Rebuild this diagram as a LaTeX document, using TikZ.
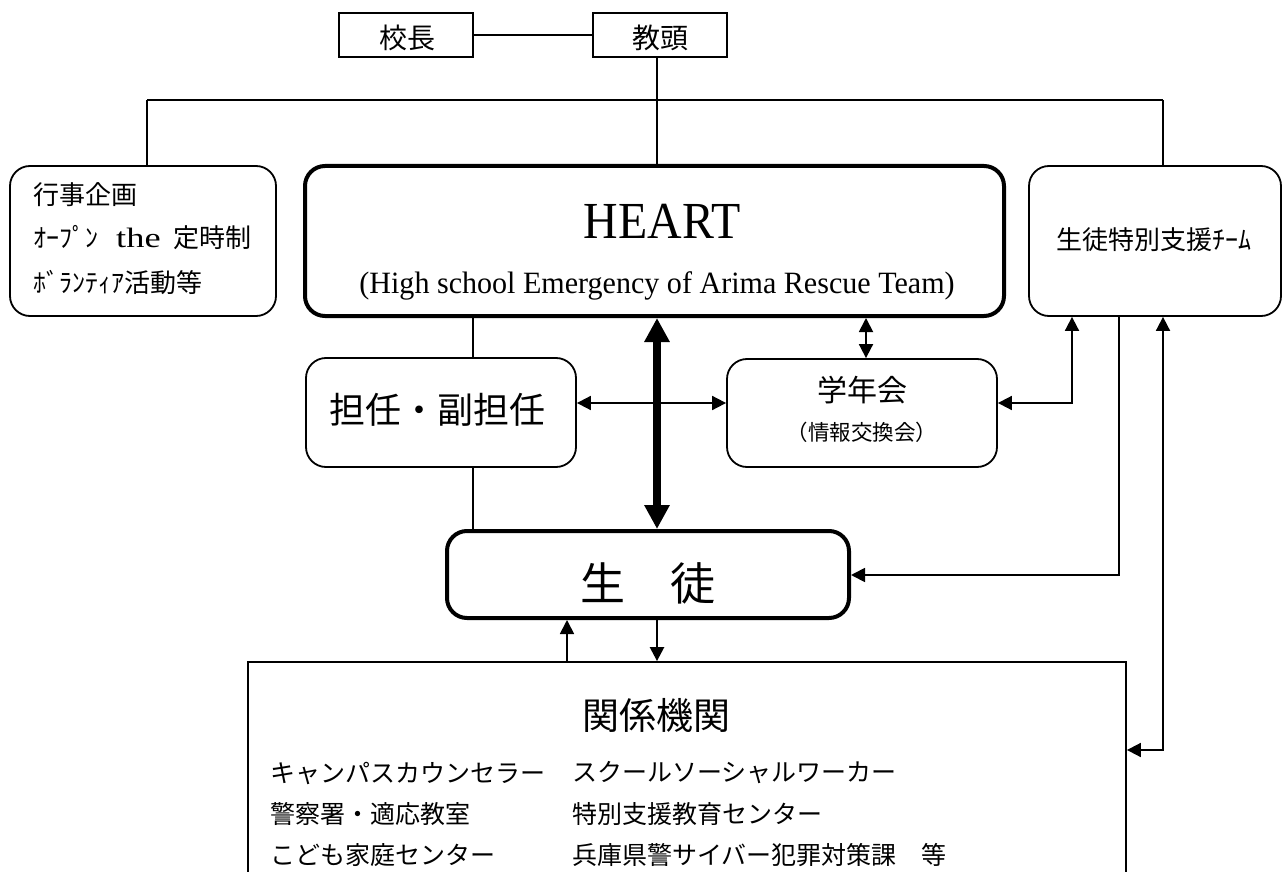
\documentclass[tikz,border=0pt]{standalone}
\usepackage{fontspec}
\newfontfamily\jp{Noto Sans CJK JP}
\newfontfamily\lat{Liberation Serif}
\usetikzlibrary{arrows.meta}
\tikzset{
  box/.style={draw, line width=1.8pt, rounded corners=20pt, inner sep=0pt},
  sq/.style={draw, line width=1.8pt, inner sep=0pt},
  ln/.style={line width=1.8pt},
  tip/.tip={Triangle[length=14pt,width=14pt]},
  arr/.style={ln, tip-tip},
  onearr/.style={ln, -tip},
  big/.style={line width=8pt, {Triangle[length=24pt,width=24pt]}-{Triangle[length=24pt,width=24pt]}},
  txt/.style={inner sep=0pt},
}
\newcommand{\fs}[1]{\fontsize{#1}{#1}\selectfont}
\begin{document}
\begin{tikzpicture}[x=1pt,y=-1pt]
\useasboundingbox (0,0) rectangle (1283,872);
\clip (0,0) rectangle (1283,872);
% boxes
\node[sq, minimum width=134pt, minimum height=44pt] (kocho) at (406,35) {};
\node[sq, minimum width=134pt, minimum height=44pt] (kyoto) at (660,35) {};
\node[txt, font=\jp\fs{28}] (kochot) at (407,38) {校長};
\node[txt, font=\jp\fs{28}] (kyotot) at (660,38) {教頭};

\node[box, minimum width=266pt, minimum height=150pt] (gyoji) at (143,241) {};
\node[txt, anchor=west, font=\jp\fs{26}] (g1) at (33,195) {行事企画};
\node[txt, anchor=west, font=\fs{26}] (g2) at (33,238) {{\jp ｵｰﾌﾟﾝ}\hspace{18pt}{\lat\fs{28}\scalebox{1.3}[1]{the}}\hspace{13pt}{\jp 定時制}};
\node[txt, anchor=west, font=\jp\fs{26}] (g3) at (33,283) {ﾎﾞﾗﾝﾃｨｱ活動等};

\node[box, line width=4pt, minimum width=699pt, minimum height=150pt] (heart) at (654.5,241) {};
\node[txt, anchor=base, font=\lat\fs{52}] (heartt) at (662,238) {\scalebox{0.92}[1]{HEART}};
\node[txt, anchor=base, font=\lat\fs{31}] (hearts) at (657,293) {\scalebox{0.97}[1]{(High school Emergency of Arima Rescue Team)}};

\node[box, minimum width=252pt, minimum height=150pt] (team) at (1155,241) {};
\node[txt, font=\jp\fs{26}] (teamt) at (1154,240) {生徒特別支援ﾁｰﾑ};

\node[box, minimum width=270pt, minimum height=109pt] (tannin) at (441,412.5) {};
\node[txt, font=\jp\fs{36}] (tannint) at (437.5,410) {担任・副担任};

\node[box, minimum width=270pt, minimum height=108pt] (gakunen) at (862,413) {};
\node[txt, font=\jp\fs{30}] (gak1) at (862,390) {学年会};
\node[txt, font=\jp\fs{21.5}] (gak2) at (862,432) {（情報交換会）};

\node[box, line width=4pt, minimum width=402pt, minimum height=87pt] (seito) at (648,574.5) {};
\node[txt, font=\jp\fs{45}] (seitot) at (648,583) {生　徒};

\node[sq, minimum width=878pt, minimum height=238pt] (kankei) at (687,781) {};
\node[txt, font=\jp\fs{37}] (kankeit) at (656,715) {関係機関};
\node[txt, anchor=west, font=\jp\fs{25}] (k1) at (270,773) {キャンパスカウンセラー};
\node[txt, anchor=west, font=\jp\fs{25}] (k2) at (270,814) {警察署・適応教室};
\node[txt, anchor=west, font=\jp\fs{25}] (k3) at (270,855) {こども家庭センター};
\node[txt, anchor=west, font=\jp\fs{25}] (k4) at (572,773) {スクールソーシャルワーカー};
\node[txt, anchor=west, font=\jp\fs{25}] (k5) at (572,814) {特別支援教育センター};
\node[txt, anchor=west, font=\jp\fs{25}] (k6) at (572,855) {兵庫県警サイバー犯罪対策課　等};

% connectors
\coordinate (tl) at (147,100);
\coordinate (tr) at (1163,100);
\coordinate (tm) at (657,100);
\coordinate (tx) at (473,0);
\coordinate (mx) at (657,0);
\coordinate (ay) at (0,403);
\coordinate (gx) at (866,0);
\coordinate (b1) at (1072,403);
\coordinate (b2) at (1119,575);
\coordinate (b3) at (1163,750);
\coordinate (ux) at (567,0);

\draw[ln] (kocho) -- (kyoto);
\draw[ln] (tl) -- (tr);
\draw[ln] (tl) -- (tl |- gyoji.north);
\draw[ln] (tm |- kyoto.south) -- (tm |- heart.north);
\draw[ln] (tr) -- (tr |- team.north);
\draw[ln] (tx |- heart.south) -- (tx |- tannin.north);
\draw[ln] (tx |- tannin.south) -- (tx |- seito.north);
\draw[big] (mx |- heart.south) -- (mx |- seito.north);
\draw[arr] (tannin.east |- ay) -- (gakunen.west |- ay);
\draw[arr] (gx |- heart.south) -- (gx |- gakunen.north);
\draw[arr] (gakunen.east |- b1) -- (b1) -- (b1 |- team.south);
\draw[onearr] (b2 |- team.south) -- (b2) -- (seito.east |- b2);
\draw[arr] (b3 |- team.south) -- (b3) -- (kankei.east |- b3);
\draw[onearr] (ux |- kankei.north) -- (ux |- seito.south);
\draw[onearr, line width=2.4pt] (mx |- seito.south) -- (mx |- kankei.north);
\end{tikzpicture}
\end{document}
